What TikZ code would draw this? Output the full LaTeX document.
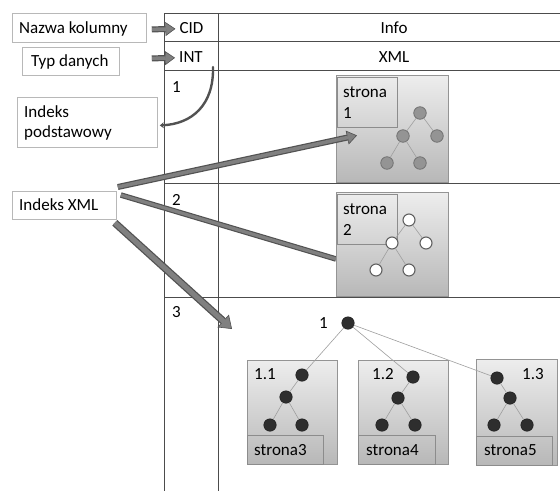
\documentclass[tikz,border=0pt]{standalone}
\usepackage{fontspec}
\setmainfont{Carlito}
\usetikzlibrary{arrows.meta,calc}
\begin{document}
\begin{tikzpicture}[x=1pt,y=-1pt,
  font=\fontsize{17}{20.5}\selectfont,
  grid/.style={draw=black!70, line width=0.9pt},
  txt/.style={inner sep=0pt, anchor=base west, align=left},
  tagbox/.style={draw=black!28, line width=0.8pt, fill=white, anchor=north west, inner sep=0pt},
  pagebox/.style={draw=black!42, line width=0.9pt, top color=black!7, bottom color=black!28, anchor=north west, inner sep=0pt},
  pagelab/.style={draw=black!45, line width=0.8pt, anchor=north west, inner sep=0pt},
  treeline/.style={draw=black!38, line width=0.6pt},
  ngray/.style={circle, draw=black!55, fill=black!42, line width=0.8pt, minimum size=12.5pt, inner sep=0pt},
  nwhite/.style={circle, draw=black!62, fill=white, line width=1.1pt, minimum size=12pt, inner sep=0pt},
  ndark/.style={circle, draw=black!88, fill=black!82, line width=0.5pt, minimum size=12.5pt, inner sep=0pt},
  barrow/.style={draw=black!68, line width=6pt,
    -{Triangle[length=10pt, width=14pt, line width=0.6pt, fill=black!50]},
    postaction={draw=black!50, line width=3.6pt, shorten >=9.3pt, -}},
  bshaft/.style={draw=black!68, line width=5.5pt,
    postaction={draw=black!50, line width=3.2pt, -}},
  curvarrow/.style={draw=black!68, line width=2.4pt, line cap=round,
    -{Stealth[length=4pt, width=6pt]}}
]
\useasboundingbox (0,0) rectangle (560,491);

% table grid
\draw[grid] (164,13) -- (560,13);
\draw[grid] (164,41) -- (560,41);
\draw[grid] (164,70) -- (560,70);
\draw[grid] (164,183) -- (560,183);
\draw[grid] (164,297) -- (560,297);
\draw[grid] (164,13) -- (164,491);
\draw[grid] (218,13) -- (218,491);

% table headers and row numbers
\node[txt, anchor=base] (cid) at (191.5,33) {CID};
\node[txt, anchor=base] (info) at (394,33) {Info};
\node[txt, anchor=base] (int) at (191,62) {INT};
\node[txt, anchor=base] (xml) at (394,62) {XML};
\node[txt] (row1) at (172,92) {1};
\node[txt] (row2) at (172,205) {2};
\node[txt] (row3) at (172,317) {3};

% captions on the left (multi-line text is placed by its last baseline)
\node[tagbox, minimum width=134, minimum height=29] (nazwa) at (12,13) {};
\node[txt] (nazwaT) at (19,33) {Nazwa kolumny};
\node[tagbox, minimum width=97, minimum height=28] (typ) at (22,47) {};
\node[txt] (typT) at (31,66) {Typ danych};
\node[tagbox, minimum width=140, minimum height=50] (ipod) at (17,97) {};
\node[txt] (ipodT) at (24,137.5) {Indeks\\podstawowy};
\node[tagbox, minimum width=104, minimum height=28] (ixml) at (12,191) {};
\node[txt] (ixmlT) at (19,210) {Indeks XML};

% caption arrows into the header cells
\draw[barrow] ($(nazwa.east)+(5,1.5)$) -- ($(cid.west)+(-4,1.3)$);
\draw[barrow] ($(typ.east)+(32,-3)$) -- ($(int.west)+(-4,1.3)$);

% primary index: curved arrow from the INT cell
\coordinate (intcorner) at (213,67);
\draw[curvarrow] (intcorner) .. controls (214,105) and (192,124) .. ($(ipod.east)+(2,3)$);

% XML index to page 2 (runs under the page)
\draw[bshaft] ($(ixml.north east)+(4,4)$) -- (336,259) coordinate (p2hit);

% page 1
\node[pagebox, minimum width=112, minimum height=107] (p1) at (336,75) {};
\node[pagelab, minimum width=60, minimum height=50] (p1lab) at (337,77) {};
\node[txt] (p1T) at (343,118) {strona\\1};
\node[ngray] (a1) at (420,113) {};
\node[ngray] (a2) at (403,136) {};
\node[ngray] (a3) at (437,136) {};
\node[ngray] (a4) at (387,163) {};
\node[ngray] (a5) at (420,163) {};
\draw[treeline] (a1) -- (a2) (a1) -- (a3) (a2) -- (a4) (a2) -- (a5);

% page 2
\node[pagebox, minimum width=112, minimum height=104] (p2) at (336,192) {};
\node[pagelab, minimum width=60, minimum height=50] (p2lab) at (337,194) {};
\node[txt] (p2T) at (343,235) {strona\\2};
\node[nwhite] (b1) at (409,220) {};
\node[nwhite] (b2) at (392,243) {};
\node[nwhite] (b3) at (426,243) {};
\node[nwhite] (b4) at (376,270) {};
\node[nwhite] (b5) at (409,270) {};
\draw[treeline] (b1) -- (b2) (b1) -- (b3) (b2) -- (b4) (b2) -- (b5);

% row 3: root and three pages
\node[txt] (rootT) at (319,328) {1};
\node[ndark] (r) at (348,323) {};

\node[pagebox, minimum width=90, minimum height=104] (p11) at (247,360) {};
\node[pagelab, minimum width=76, minimum height=29] (p11lab) at (247,435) {};
\node[txt] (p11T) at (254,455) {strona3};
\node[txt] (p11N) at (254,379) {1.1};
\node[ndark] (c1) at (302,375) {};
\node[ndark] (c2) at (286,397) {};
\node[ndark] (c3) at (270,425) {};
\node[ndark] (c4) at (302,425) {};

\node[pagebox, minimum width=90, minimum height=104] (p12) at (358,360) {};
\node[pagelab, minimum width=77, minimum height=29] (p12lab) at (358,435) {};
\node[txt] (p12T) at (366,455) {strona4};
\node[txt] (p12N) at (372,379) {1.2};
\node[ndark] (d1) at (413,377) {};
\node[ndark] (d2) at (398,398) {};
\node[ndark] (d3) at (382,425) {};
\node[ndark] (d4) at (415,425) {};

\node[pagebox, minimum width=81, minimum height=106] (p13) at (476,359) {};
\node[pagelab, minimum width=76, minimum height=29] (p13lab) at (476,436) {};
\node[txt] (p13T) at (484,455) {strona5};
\node[txt] (p13N) at (522,379) {1.3};
\node[ndark] (e1) at (497,378) {};
\node[ndark] (e2) at (510,398) {};
\node[ndark] (e3) at (494,425) {};
\node[ndark] (e4) at (527,425) {};

\draw[treeline] (r) -- (c1) (c1) -- (c2) (c2) -- (c3) (c2) -- (c4);
\draw[treeline] (r) -- (d1) (d1) -- (d2) (d2) -- (d3) (d2) -- (d4);
\draw[treeline] (r) -- (e1) (e1) -- (e2) (e2) -- (e3) (e2) -- (e4);

% XML index to page 1 and to row 3
\draw[barrow] ($(ixml.north east)+(1,-4)$) -- ($(p1.west)+(21,6.5)$);
\coordinate (row3hit) at (232,329);
\draw[barrow, line width=7.5pt,
  -{Triangle[length=12pt, width=17pt, line width=0.6pt, fill=black!50]},
  postaction={draw=black!50, line width=5pt, shorten >=11pt, -}]
  ($(ixml.south east)+(-2,3)$) -- (row3hit);
\end{tikzpicture}
\end{document}
